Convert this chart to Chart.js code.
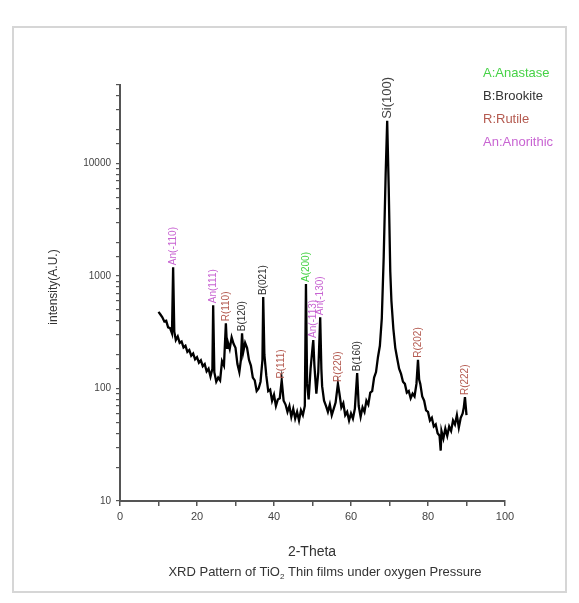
<!DOCTYPE html>
<html>
<head>
<meta charset="utf-8">
<script src="https://cdn.jsdelivr.net/npm/chart.js@4.4.1/dist/chart.umd.min.js"></script>
<style>
  html, body { margin: 0; padding: 0; background: #fff; }
  #wrap { width: 579px; height: 603px; }
</style>
</head>
<body>
<div id="wrap"><canvas id="xrd" width="579" height="603"></canvas></div>
<script>
// 2-theta positions and intensity
var twoTheta = [10.0,10.5,11.0,11.5,12.0,12.5,13.0,13.5,13.8,14.1,14.5,15.0,15.5,16.0,16.5,17.0,17.5,18.0,18.5,19.0,19.5,20.0,20.5,21.0,21.5,22.0,22.5,23.0,23.5,24.0,24.2,24.5,25.0,25.5,26.0,26.5,27.0,27.5,27.8,28.0,28.5,29.0,29.5,30.0,30.5,31.0,31.4,31.7,32.0,32.5,33.0,33.5,34.0,34.5,35.0,35.5,36.0,36.5,37.0,37.2,37.5,38.0,38.5,39.0,39.5,40.0,40.5,41.0,41.5,42.0,42.5,43.0,43.5,44.0,44.5,45.0,45.5,46.0,46.5,47.0,47.5,48.0,48.3,48.6,49.0,49.5,50.0,50.2,50.5,51.0,51.5,52.0,52.3,52.5,53.0,53.5,54.0,54.5,55.0,55.5,56.0,56.6,57.0,57.5,58.0,58.5,59.0,59.5,60.0,60.5,61.0,61.6,62.0,62.5,63.0,63.5,64.0,64.5,65.0,65.5,66.0,66.5,67.0,67.5,68.0,68.5,69.0,69.4,69.8,70.2,70.5,71.0,71.5,72.0,72.5,73.0,73.5,74.0,74.5,75.0,75.5,76.0,76.5,77.0,77.4,77.7,78.0,78.5,79.0,79.5,80.0,80.5,81.0,81.5,82.0,82.5,83.0,83.3,83.5,84.0,84.5,85.0,85.5,86.0,86.5,87.0,87.5,88.0,88.5,89.0,89.3,89.6,90.0];
var intensity = [480,455,430,395,400,350,345,310,1200,320,270,290,255,262,232,240,212,220,196,205,182,190,170,178,158,165,142,150,128,150,550,140,115,125,118,175,160,380,230,260,225,285,250,230,165,140,180,310,210,255,230,180,160,125,118,95,100,115,180,650,200,130,95,98,78,88,70,80,82,118,78,72,62,70,56,66,54,62,52,64,58,70,850,110,80,150,230,270,160,90,140,430,150,105,78,70,62,72,58,66,75,110,90,68,74,58,62,52,60,54,66,137,70,56,68,62,78,72,92,95,125,140,190,240,420,1500,8000,24000,6000,1100,600,340,230,185,150,135,115,110,92,95,82,90,85,110,180,120,110,85,78,64,62,52,55,46,48,40,38,28,42,36,44,38,46,42,52,48,58,45,55,60,68,84,58];

// peak labels
var peakTheta = [13.8, 24.2, 27.5, 31.7, 37.2, 42.0, 48.3, 50.2, 52.0, 56.6, 61.6, 69.4, 77.4, 89.6];
var peakText = ['An(-110)', 'An(111)', 'R(110)', 'B(120)', 'B(021)', 'R(111)', 'A(200)', 'An(-113)', 'An(-130)', 'R(220)', 'B(160)', 'Si(100)', 'R(202)', 'R(222)'];
var peakPhase = ['An', 'An', 'R', 'B', 'B', 'R', 'A', 'An', 'An', 'R', 'B', 'Si', 'R', 'R'];

var phaseKeys = ['A', 'B', 'R', 'An'];
var phaseNames = ['A:Anastase', 'B:Brookite', 'R:Rutile', 'An:Anorithic'];

var yTicks = [10, 100, 1000, 10000];

var colors = { A: '#46d246', B: '#333333', R: '#b45a50', An: '#c864d2', Si: '#444444' };
var FONT = '"Liberation Sans", Arial, sans-serif';

var points = [];
for (var i = 0; i < twoTheta.length; i++) {
  points.push({ x: twoTheta[i], y: intensity[i] });
}

var extras = {
  id: 'extras',
  afterDatasetsDraw: function (chart) {
    var ctx = chart.ctx;
    var xs = chart.scales.x, ys = chart.scales.y;
    ctx.save();
    // peak labels, rotated, sitting on top of each peak
    for (var i = 0; i < peakTheta.length; i++) {
      var k = twoTheta.indexOf(peakTheta[i]);
      var px = xs.getPixelForValue(peakTheta[i]);
      var py = ys.getPixelForValue(intensity[k]) - 2;
      ctx.save();
      ctx.translate(px, py);
      ctx.rotate(-Math.PI / 2);
      ctx.fillStyle = colors[peakPhase[i]];
      ctx.font = (peakPhase[i] === 'Si' ? '13px ' : '10px ') + FONT;
      ctx.textAlign = 'left';
      ctx.textBaseline = 'middle';
      ctx.fillText(peakText[i], 0, 0);
      ctx.restore();
    }
    ctx.restore();
  },
  afterDraw: function (chart) {
    var ctx = chart.ctx;
    ctx.save();
    // faint frame
    ctx.strokeStyle = '#d6d6d6';
    ctx.lineWidth = 2;
    ctx.strokeRect(13, 27, 553, 565);

    // phase key
    ctx.font = '13px ' + FONT;
    ctx.textAlign = 'left';
    ctx.textBaseline = 'middle';
    for (var j = 0; j < phaseKeys.length; j++) {
      ctx.fillStyle = colors[phaseKeys[j]];
      ctx.fillText(phaseNames[j], 483, 73 + j * 23);
    }

    // y title
    ctx.save();
    ctx.translate(54, 287);
    ctx.rotate(-Math.PI / 2);
    ctx.fillStyle = '#333';
    ctx.font = '12px ' + FONT;
    ctx.textAlign = 'center';
    ctx.fillText('intensity(A.U.)', 0, 0);
    ctx.restore();

    // x title and caption
    ctx.fillStyle = '#333';
    ctx.textAlign = 'center';
    ctx.font = '14px ' + FONT;
    ctx.fillText('2-Theta', 312, 552);
    ctx.font = '13px ' + FONT;
    var a = 'XRD Pattern of TiO', b = ' Thin films under oxygen Pressure';
    var wa = ctx.measureText(a).width, wb = ctx.measureText(b).width;
    ctx.font = '8px ' + FONT;
    var ws = ctx.measureText('2').width;
    var x0 = 325 - (wa + ws + wb) / 2;
    ctx.textAlign = 'left';
    ctx.font = '13px ' + FONT;
    ctx.fillText(a, x0, 572);
    ctx.font = '8px ' + FONT;
    ctx.fillText('2', x0 + wa, 577);
    ctx.font = '13px ' + FONT;
    ctx.fillText(b, x0 + wa + ws, 572);
    ctx.restore();
  }
};

new Chart(document.getElementById('xrd'), {
  type: 'line',
  data: {
    datasets: [{
      data: points,
      borderColor: '#000',
      borderWidth: 2.3,
      pointRadius: 0,
      tension: 0,
      fill: false
    }]
  },
  options: {
    responsive: false,
    animation: false,
    parsing: false,
    layout: { padding: { left: 40, right: 74, top: 85, bottom: 0 } },
    plugins: { legend: { display: false }, tooltip: { enabled: false } },
    scales: {
      x: {
        type: 'linear',
        min: 0,
        max: 100,
        afterFit: function (s) { s.height = 102; },
        grid: { drawOnChartArea: false, drawTicks: true, tickLength: 5, color: '#555', lineWidth: 1.5 },
        border: { display: true, color: '#555', width: 2 },
        ticks: {
          stepSize: 10,
          autoSkip: false,
          maxRotation: 0,
          color: '#444',
          font: { family: FONT, size: 11 },
          padding: 4,
          callback: function (v) { return v % 20 === 0 ? String(v) : ''; }
        }
      },
      y: {
        type: 'logarithmic',
        min: 10,
        max: 50000,
        afterFit: function (s) { s.width = 80; },
        grid: { drawOnChartArea: false, drawTicks: true, tickLength: 4, color: '#555', lineWidth: 1.2 },
        border: { display: true, color: '#555', width: 2 },
        ticks: {
          autoSkip: false,
          color: '#444',
          font: { family: FONT, size: 10 },
          padding: 5,
          callback: function (v) { return yTicks.indexOf(v) >= 0 ? String(v) : ''; }
        }
      }
    }
  },
  plugins: [extras]
});
</script>
</body>
</html>
